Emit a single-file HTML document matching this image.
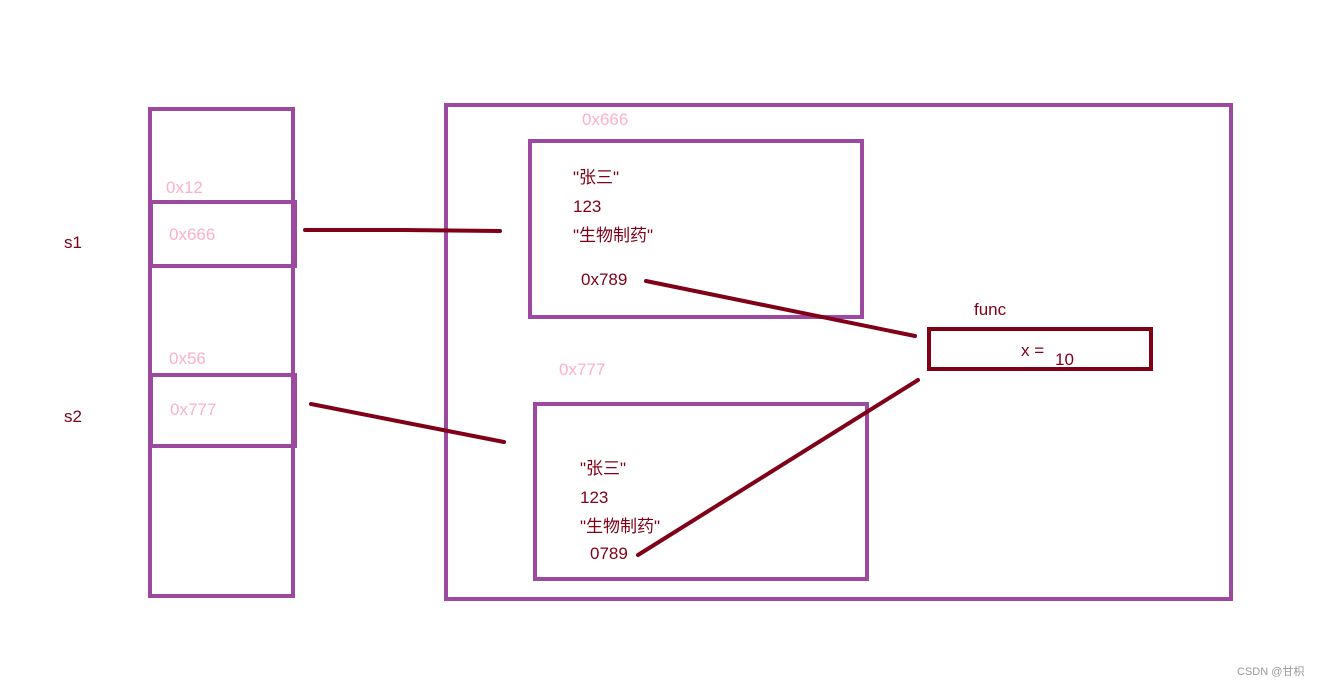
<!DOCTYPE html>
<html><head><meta charset="utf-8"><style>
body{margin:0;width:1320px;height:686px;background:#fff;overflow:hidden}
svg text{font-family:"Liberation Sans","Noto Sans CJK SC",sans-serif;font-size:17px}
.p{fill:#ffb0c8}.r{fill:#800018}
</style></head><body>
<svg width="1320" height="686" xmlns="http://www.w3.org/2000/svg">
<g fill="none" stroke="#9b4aa0" stroke-width="4">
<rect x="150" y="109" width="143" height="487"/>
<rect x="151" y="202" width="144" height="64"/>
<rect x="151" y="375" width="144" height="71"/>
<rect x="446" y="105" width="785" height="494"/>
<rect x="530" y="141" width="332" height="176"/>
<rect x="535" y="404" width="332" height="175"/>
</g>
<rect x="929" y="329" width="222" height="40" fill="none" stroke="#800018" stroke-width="4"/>
<g stroke="#800018" stroke-width="4" stroke-linecap="round" fill="none">
<polyline points="305,230 402,230 500,231"/>
<line x1="311" y1="404" x2="504" y2="442"/>
<line x1="646" y1="281" x2="915" y2="336"/>
<line x1="638" y1="555" x2="918" y2="380"/>
</g>
<text class="p" x="166" y="193">0x12</text>
<text class="p" x="169" y="240">0x666</text>
<text class="p" x="169" y="364">0x56</text>
<text class="p" x="170" y="415">0x777</text>
<text class="p" x="582" y="125">0x666</text>
<text class="p" x="559" y="375">0x777</text>
<text class="r" x="64" y="248">s1</text>
<text class="r" x="64" y="422">s2</text>
<text class="r" x="573" y="183">"张三"</text>
<text class="r" x="573" y="212">123</text>
<text class="r" x="573" y="241">"生物制药"</text>
<text class="r" x="581" y="285">0x789</text>
<text class="r" x="580" y="474">"张三"</text>
<text class="r" x="580" y="503">123</text>
<text class="r" x="580" y="532">"生物制药"</text>
<text class="r" x="590" y="559">0789</text>
<text class="r" x="974" y="315">func</text>
<text class="r" x="1021" y="356">x =</text>
<text class="r" x="1055" y="365">10</text>
<text x="1237" y="675" style="font-size:11px;fill:#999">CSDN @甘枳</text>
</svg>
</body></html>
